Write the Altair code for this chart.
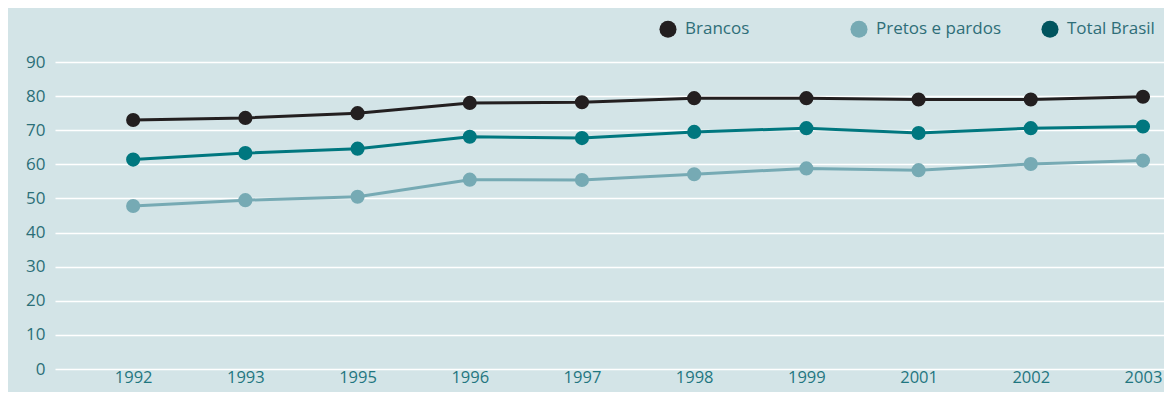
import altair as alt
import pandas as pd

anos = ["1992", "1993", "1995", "1996", "1997", "1998", "1999", "2001", "2002", "2003"]
brancos = [73.0, 73.6, 75.0, 78.0, 78.2, 79.4, 79.4, 79.0, 79.0, 79.8]
pretos_pardos = [47.8, 49.5, 50.5, 55.5, 55.4, 57.1, 58.8, 58.3, 60.1, 61.1]
total_brasil = [61.4, 63.3, 64.6, 68.1, 67.7, 69.5, 70.6, 69.2, 70.6, 71.1]

series = ["Brancos", "Pretos e pardos", "Total Brasil"]
cores = ["#231f20", "#76aab4", "#00777f"]
cores_legenda = ["#231f20", "#76aab4", "#00545e"]

rows = []
for nome, vals in zip(series, [brancos, pretos_pardos, total_brasil]):
    for a, v in zip(anos, vals):
        rows.append({"ano": a, "valor": v, "serie": nome})
df = pd.DataFrame(rows)

FONT = "Open Sans"

x = alt.X("ano:O", sort=anos,
          scale=alt.Scale(type="point", padding=0.442, align=0.788),
          axis=alt.Axis(title=None, labelAngle=0, domain=False, ticks=False,
                        grid=False, labelPadding=0, labelFontSize=16.5,
                        labelColor="#1f7680", labelFont=FONT))
y = alt.Y("valor:Q", scale=alt.Scale(domain=[0, 90], nice=False, zero=True),
          axis=alt.Axis(title=None, values=list(range(0, 100, 10)), domain=False,
                        ticks=False, grid=True, gridColor="#ffffff", gridWidth=1.5,
                        labelPadding=10, labelFontSize=17, labelColor="#2b6f78",
                        labelFont=FONT))
color = alt.Color("serie:N", sort=series,
                  scale=alt.Scale(domain=series, range=cores), legend=None)
fill = alt.Fill("serie:N", sort=series,
                scale=alt.Scale(domain=series, range=cores_legenda),
                legend=alt.Legend(title=None, orient="none", direction="horizontal",
                                  legendX=604, legendY=-42, columns=3,
                                  gridAlign="all", columnPadding=39,
                                  symbolType="circle", symbolSize=290,
                                  symbolStrokeWidth=0, symbolOpacity=1,
                                  labelFontSize=17, labelColor="#2e6e78",
                                  labelFont=FONT, labelOffset=8, padding=0))

base = alt.Chart(df).encode(x=x, y=y, order=alt.Order("ano:O"))
lines = base.mark_line(strokeWidth=3).encode(color=color)
points = base.mark_circle(size=200, opacity=1).encode(color=color)
legenda = base.mark_circle(size=10, opacity=0).encode(fill=fill)

chart = (lines + points + legenda).properties(
    width=1109, height=307,
    background="#d3e4e7",
    padding={"left": 47, "top": 54, "right": 0, "bottom": 23},
    autosize=alt.AutoSizeParams(type="none"),
).resolve_scale(color="independent").configure_view(stroke=None)

chart.save("out.html", embed_options={"renderer": "svg", "actions": False})
